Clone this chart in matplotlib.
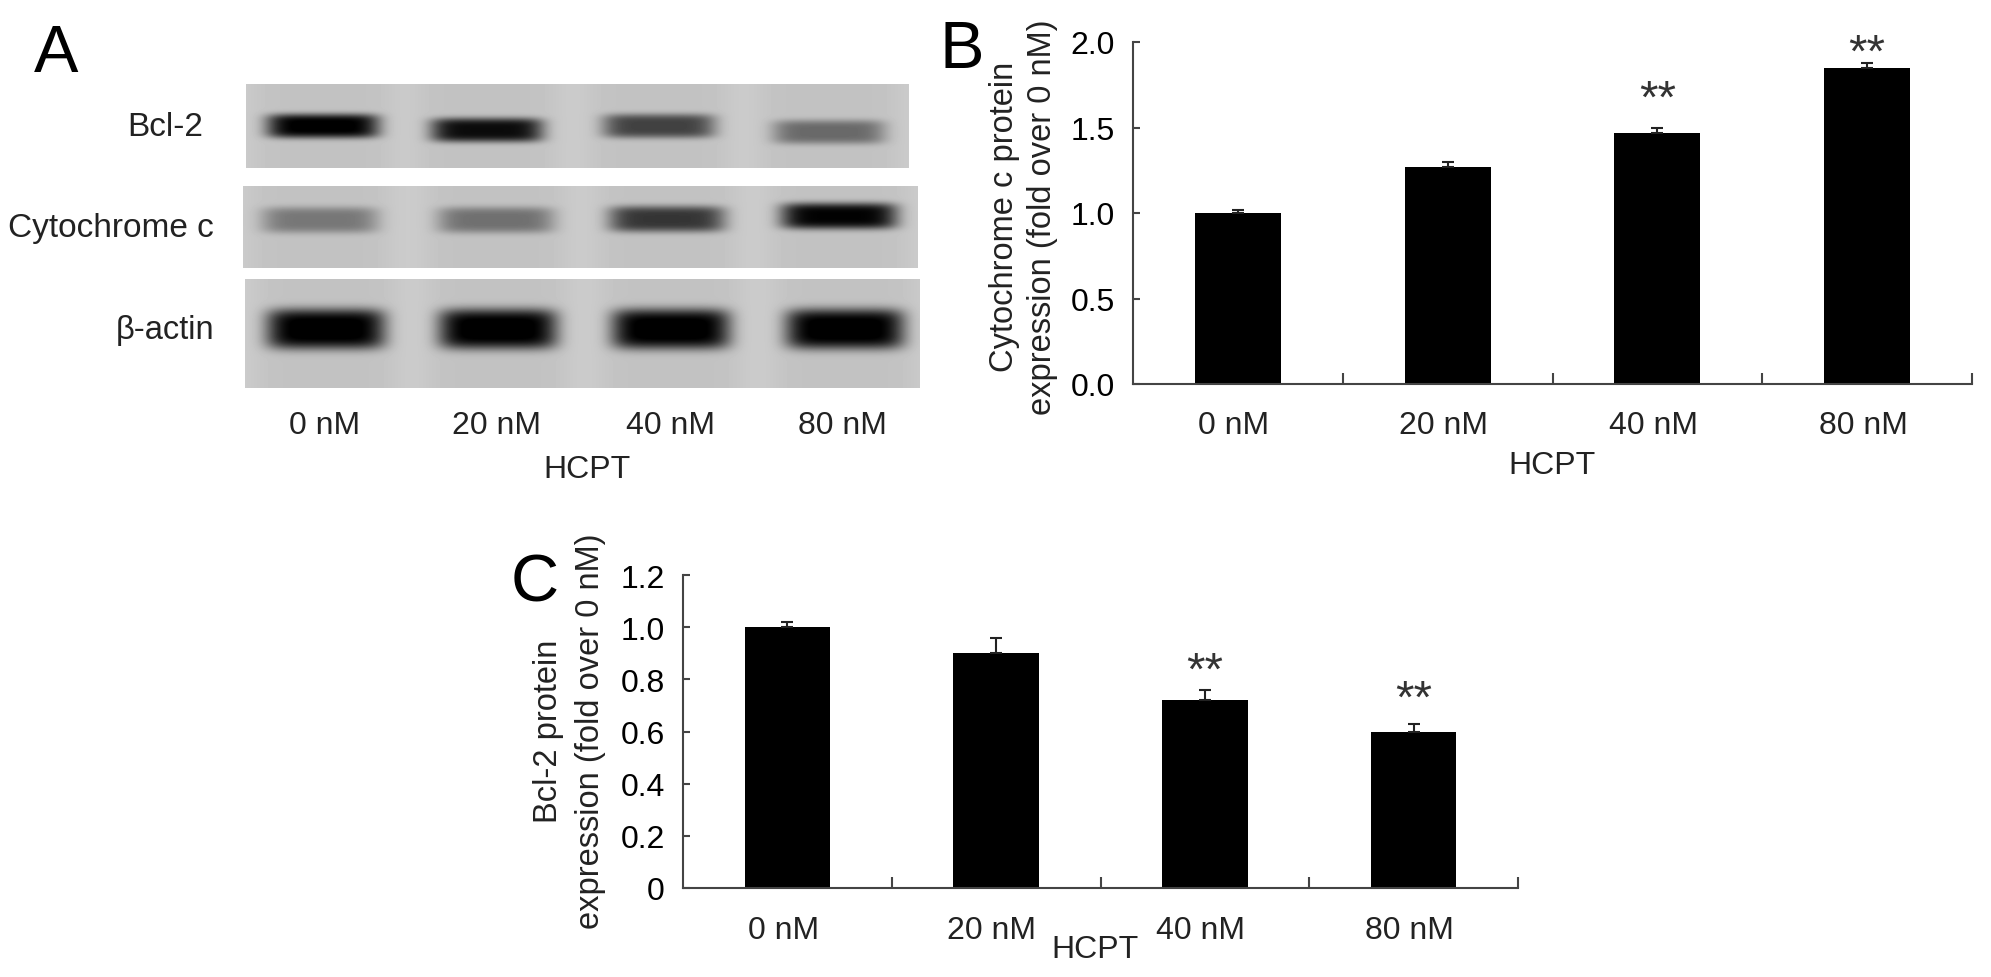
import numpy as np
import matplotlib
matplotlib.use('Agg')
import matplotlib.pyplot as plt

plt.rcParams['font.family'] = ['Liberation Sans', 'DejaVu Sans']
plt.rcParams['text.color'] = '#222222'

W, H = 1991, 978

# Data
doses = ['0 nM', '20 nM', '40 nM', '80 nM']
cyto_values = [1.0, 1.27, 1.47, 1.85]
cyto_err = [0.02, 0.03, 0.03, 0.03]
cyto_stars = [None, None, 1.66, 1.93]
bcl_values = [1.0, 0.9, 0.72, 0.6]
bcl_err = [0.02, 0.06, 0.04, 0.03]
bcl_stars = [None, None, 0.83, 0.72]

# band darkness
bcl_bands = [0.85, 0.78, 0.55, 0.38]
cyto_bands = [0.32, 0.35, 0.60, 0.82]
actin_bands = [1.0, 1.0, 1.0, 1.0]

fig = plt.figure(figsize=(W / 100, H / 100), dpi=100, facecolor='white')

# overlay in pixel coords, for the blots and loose text
pix = fig.add_axes([0, 0, 1, 1])
pix.set_xlim(0, W)
pix.set_ylim(H, 0)
pix.axis('off')


def blot(box, bands, centers, band_y, band_w, band_h):
    x0, x1, y0, y1 = box
    xx, yy = np.meshgrid(np.arange(x0, x1) + 0.5, np.arange(y0, y1) + 0.5)
    img = np.full(xx.shape, 0.80)
    for cx, cy, s in zip(centers, band_y, bands):
        d = ((xx - cx) / band_w) ** 6 + ((yy - cy) / band_h) ** 4
        img -= 0.80 * np.clip(s * 1.15, 0, 1) * np.exp(-d)
        # paler lane around each band
        img -= 0.04 * np.exp(-((xx - cx) / 72) ** 6)
    pix.imshow(np.clip(img, 0, 1), cmap='gray', vmin=0, vmax=1, aspect='auto',
               extent=(x0, x1, y1, y0), interpolation='bilinear')


blot((246, 909, 85, 169), bcl_bands, [323, 487, 659, 829], [127, 131, 127, 133], 56, 12)
blot((243, 918, 187, 269), cyto_bands, [320, 496, 667, 839], [221, 221, 220, 217], 58, 13)
blot((245, 920, 280, 389), actin_bands, [326, 498, 671, 845], [330, 330, 330, 330], 59, 20)
pix.set_xlim(0, W)
pix.set_ylim(H, 0)

fs = 23
for label, x, y, size in [('Bcl-2', 203, 127, 24), ('Cytochrome c', 214, 229, 24), ('β-actin', 214, 331, 23.5)]:
    pix.text(x, y, label, fontsize=size, ha='right', va='center')
for label, x in zip(doses, [325, 497, 670, 842]):
    pix.text(x, 426, label, fontsize=fs, ha='center', va='center')

pix.text(587, 470, 'HCPT', fontsize=fs, ha='center', va='center')
pix.text(1552, 466, 'HCPT', fontsize=fs, ha='center', va='center')
pix.text(1095, 950, 'HCPT', fontsize=fs, ha='center', va='center')

pix.text(56, 55, 'A', fontsize=48, ha='center', va='center', color='black')
pix.text(962, 51, 'B', fontsize=48, ha='center', va='center', color='black')
pix.text(535, 584, 'C', fontsize=48, ha='center', va='center', color='black')

# two y labels, each line placed on its own
pix.text(1004, 217, 'Cytochrome c protein', fontsize=23.5, rotation=90, ha='center', va='center')
pix.text(1043, 217, 'expression (fold over 0 nM)', fontsize=23.5, rotation=90, ha='center', va='center')
pix.text(548, 731, 'Bcl-2 protein', fontsize=23.5, rotation=90, ha='center', va='center')
pix.text(590, 731, 'expression (fold over 0 nM)', fontsize=23.5, rotation=90, ha='center', va='center')


def bar_panel(box, values, err, stars, ymax, yticks, yticklabels, label_y):
    left, right, top, bottom = box
    ax = fig.add_axes([left / W, 1 - bottom / H, (right - left) / W, (bottom - top) / H])
    ax.patch.set_alpha(0)
    x = np.arange(len(values))
    ax.bar(x, values, width=0.41, color='black')
    ax.errorbar(x, values, yerr=[[0] * len(err), err], fmt='none', ecolor='#222222',
                elinewidth=1.5, capsize=4, capthick=1.5)
    for xi, s in zip(x, stars):
        if s is not None:
            ax.text(xi, s, '**', fontsize=34, ha='center', va='center', color='#333333')
    ax.set_xlim(-0.5, len(values) - 0.5)
    ax.set_ylim(0, ymax)
    ax.set_yticks(yticks)
    ax.set_yticklabels(yticklabels, fontsize=fs)
    ax.set_xticks(x)
    ax.set_xticklabels([])
    ax.set_xticks(np.arange(len(values)) + 0.5, minor=True)
    ax.tick_params(axis='x', which='major', length=0)
    ax.tick_params(axis='x', which='minor', direction='in', length=8, width=1.5, color='#444444')
    ax.tick_params(axis='y', direction='in', length=5, width=1.5, color='#444444', pad=13)
    for side in ['top', 'right']:
        ax.spines[side].set_visible(False)
    for side in ['left', 'bottom']:
        ax.spines[side].set_color('#444444')
        ax.spines[side].set_linewidth(1.5)
    for xi, name in zip(x, doses):
        ax.annotate(name, (xi, 0), xycoords=('data', 'axes fraction'),
                    xytext=(-3, -label_y * 0.72), textcoords='offset points',
                    fontsize=fs, ha='center', va='center')
    return ax


bar_panel((1133, 1972, 43, 385), cyto_values, cyto_err, cyto_stars, 2.0,
          [0, 0.5, 1.0, 1.5, 2.0], ['0.0', '0.5', '1.0', '1.5', '2.0'], 41)
bar_panel((683, 1518, 576, 889), bcl_values, bcl_err, bcl_stars, 1.2,
          [0, 0.2, 0.4, 0.6, 0.8, 1.0, 1.2], ['0', '0.2', '0.4', '0.6', '0.8', '1.0', '1.2'], 42)

fig.savefig('out.png', dpi=100)
